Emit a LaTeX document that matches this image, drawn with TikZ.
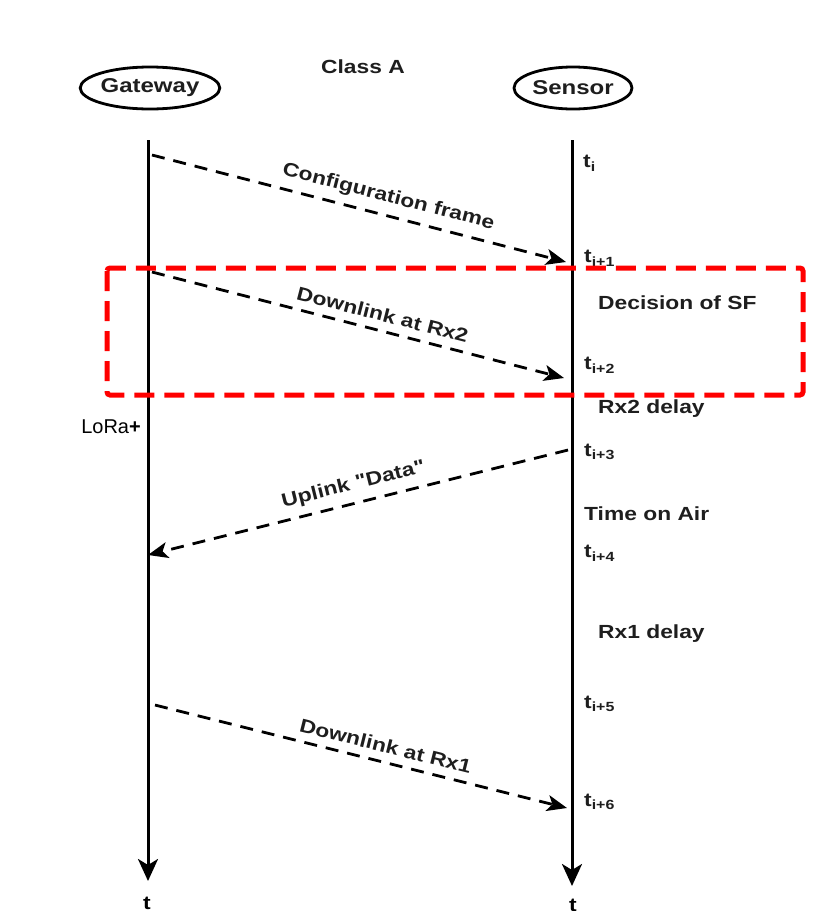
\documentclass[tikz,border=0pt]{standalone}
\usepackage{fontspec}
\setmainfont{Liberation Sans}
\newfontfamily\widefont{Liberation Sans}[FakeStretch=1.2]
\usepackage{tikz}
\usetikzlibrary{positioning,shapes,arrows,arrows.meta,calc}
\definecolor{boxred}{RGB}{255,0,0}
\definecolor{inkgray}{RGB}{30,30,30}

\begin{document}
\begin{tikzpicture}[x=1pt, y=-1pt]
    \tikzstyle{actor} = [ellipse, draw=black, line width=2.8pt, minimum width=118pt, minimum height=42pt, inner sep=0pt, text=inkgray, font=\widefont\fontsize{20}{23}\selectfont\bfseries]
    \tikzstyle{lifeline} = [draw=black, line width=3pt, -{Stealth[length=22pt, width=20pt, inset=6pt]}]
    \tikzstyle{msg} = [draw=black, line width=2.8pt, dash pattern=on 13pt off 9pt, -{Stealth[length=20pt, width=16pt, inset=5pt]}]
    \tikzstyle{tlabel} = [anchor=west, inner sep=0pt, text=inkgray, font=\widefont\fontsize{19}{22}\selectfont\bfseries]
    \tikzstyle{msglabel} = [sloped, above, inner sep=0pt, yshift=8pt, text=inkgray, font=\widefont\fontsize{19}{22}\selectfont\bfseries]
    \useasboundingbox (0,0) rectangle (838,911);

    % Actors
    \node [actor] (gateway) at (150,88) {Gateway};
    \node [actor] (sensor) at (573,88) {Sensor};
    \node [tlabel, anchor=center] (classa) at (363,67) {Class A};

    % Lifelines
    \coordinate (gw_top) at (148,140);
    \coordinate (gw_end) at (148,881);
    \coordinate (sn_top) at (572,140);
    \coordinate (sn_end) at (572,886);
    \draw [lifeline] (gw_top) -- (gw_end);
    \draw [lifeline] (sn_top) -- (sn_end);
    \node [anchor=north, inner sep=0pt, font=\widefont\fontsize{19}{22}\selectfont\bfseries] (gw_t) at (147,897) {t};
    \node [anchor=north, inner sep=0pt, font=\widefont\fontsize{19}{22}\selectfont\bfseries] (sn_t) at (573,899) {t};
    \node [anchor=east, inner sep=0pt, font=\fontsize{20}{23}\selectfont] (lora) at (141,427) {LoRa\textbf{+}};

    % Time marks
    \node [tlabel] (t0) at (583,163) {t\textsubscript{i}};
    \node [tlabel] (t1) at (584,258) {t\textsubscript{i+1}};
    \node [tlabel] (sf) at (598,303) {Decision of SF};
    \node [tlabel] (t2) at (584,365) {t\textsubscript{i+2}};
    \node [tlabel] (rx2) at (598,409) {Rx2 delay};
    \node [tlabel] (t3) at (584,452) {t\textsubscript{i+3}};
    \node [tlabel] (toa) at (584,514) {Time on Air};
    \node [tlabel] (t4) at (584,553) {t\textsubscript{i+4}};
    \node [tlabel] (rx1) at (598,634) {Rx1 delay};
    \node [tlabel] (t5) at (584,704) {t\textsubscript{i+5}};
    \node [tlabel] (t6) at (584,802) {t\textsubscript{i+6}};

    % Messages
    \coordinate (gw1) at (152,155);
    \coordinate (sn1) at (566,262);
    \coordinate (gw2) at (152,272);
    \coordinate (sn2) at (564,378);
    \coordinate (sn3) at (568,450);
    \coordinate (gw3) at (148,555);
    \coordinate (gw4) at (155,705);
    \coordinate (sn4) at (567,808);
    \draw [msg] (gw1) -- node [msglabel, pos=0.56] {Configuration frame} (sn1);
    \draw [msg] (gw2) -- node [msglabel, pos=0.55] {Downlink at Rx2} (sn2);
    \draw [msg] (sn3) -- node [msglabel, pos=0.5] {Uplink "Data"} (gw3);
    \draw [msg] (gw4) -- node [msglabel, pos=0.55] {Downlink at Rx1} (sn4);

    % Highlight box
    \draw [boxred, line width=5pt, dash pattern=on 20pt off 10pt, rounded corners=3pt] (107,268) rectangle (803,395);
\end{tikzpicture}
\end{document}
